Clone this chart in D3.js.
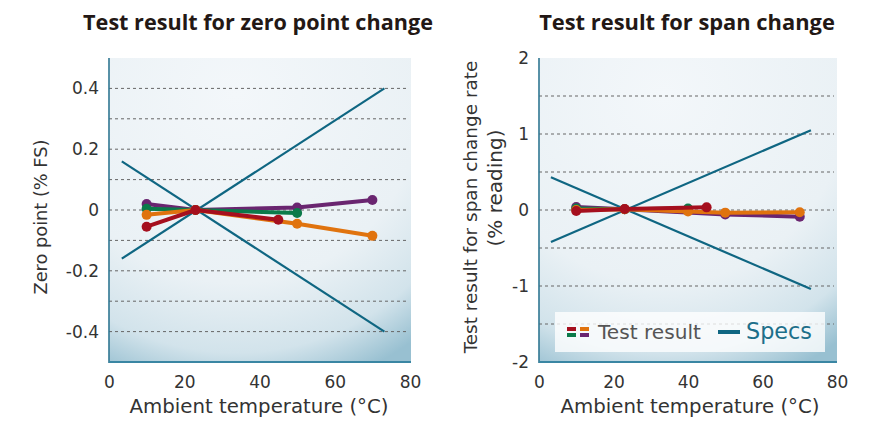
<!DOCTYPE html>
<html>
<head>
<meta charset="utf-8">
<script src="https://cdn.jsdelivr.net/npm/d3@7"></script>
<style>
  body { margin: 0; background: #fff; }
  text { font-family: "DejaVu Sans", sans-serif; }
</style>
</head>
<body>
<svg id="chart" width="871" height="425"></svg>
<script>
// values: [ambient temperature °C, value]
const zeroPurple = [[10, 0.02], [23, 0], [50, 0.008], [70, 0.033]];
const zeroGreen  = [[10, 0.004], [23, 0], [50, -0.01]];
const zeroOrange = [[10, -0.016], [23, 0], [50, -0.045], [70, -0.085]];
const zeroRed    = [[10, -0.055], [23, 0], [45, -0.032]];
const zeroSpecUp   = [[3.4, -0.16], [73.2, 0.4]];
const zeroSpecDown = [[3.4, 0.16], [73.2, -0.4]];

const spanPurple = [[10, 0.04], [23, 0.01], [50, -0.058], [70, -0.088]];
const spanGreen  = [[10, 0.02], [23, 0.01], [40, 0.02]];
const spanOrange = [[10, 0.0], [23, 0.01], [40, -0.02], [50, -0.035], [70, -0.03]];
const spanRed    = [[10, -0.013], [23, 0.013], [45, 0.035]];
const spanSpecUp   = [[3.2, -0.42], [73, 1.05]];
const spanSpecDown = [[3.2, 0.43], [73, -1.04]];

const xTicks = [0, 20, 40, 60, 80];
const zeroTicks = [-0.4, -0.2, 0, 0.2, 0.4];
const zeroGrid = [-0.4, -0.3, -0.2, -0.1, 0, 0.1, 0.2, 0.3, 0.4];
const spanTicks = [-2, -1, 0, 1, 2];
const spanGrid = [-1.5, -1, -0.5, 0, 0.5, 1, 1.5];

const colors = {purple: "#6a2570", green: "#0b7a4a", orange: "#e0730e", red: "#a50f1e", spec: "#0f6682"};

let svg = d3.select("#chart");

// shared background gradient, dark only toward the bottom corners
let grad = svg.append("defs").append("radialGradient")
  .attr("id", "bg").attr("cx", "42%").attr("cy", "12%").attr("r", "100%");
grad.append("stop").attr("offset", "0%").attr("stop-color", "#f3f7fa");
grad.append("stop").attr("offset", "62%").attr("stop-color", "#eaf1f5");
grad.append("stop").attr("offset", "85%").attr("stop-color", "#d2e3eb");
grad.append("stop").attr("offset", "100%").attr("stop-color", "#98c0d1");

function fit(sel, w) {
  let size = parseFloat(sel.style("font-size"));
  let len = sel.node().getComputedTextLength();
  sel.style("font-size", (size * w / len) + "px");
}

function drawPanel(p) {
  let top = 58, bottom = 362;
  let x = d3.scaleLinear().domain([0, 80]).range([p.left, p.right]),
      y = d3.scaleLinear().domain(p.yDomain).range([bottom, top]);
  let g = svg.append("g");

  g.append("rect")
    .attr("x", p.left).attr("y", top)
    .attr("width", p.plotRight - p.left).attr("height", bottom - top)
    .attr("fill", "url(#bg)");

  // dashed grid
  g.selectAll(".grid").data(p.grid).enter().append("line")
    .attr("x1", p.left).attr("x2", p.plotRight - 3)
    .attr("y1", d => y(d)).attr("y2", d => y(d))
    .attr("stroke", "#666").attr("stroke-width", 1)
    .attr("stroke-dasharray", "3,3");

  // axes: labels only, no ticks
  let yAxis = d3.axisLeft(y).tickValues(p.ticks).tickSize(0).tickPadding(10)
    .tickFormat(p.fmt);
  let ya = g.append("g").attr("transform", "translate(" + p.left + ",0)").call(yAxis);
  ya.select(".domain").remove();
  ya.selectAll("text").style("font-size", "17px").attr("fill", "#333")
    .style("font-family", "DejaVu Sans");

  let xAxis = d3.axisBottom(x).tickValues(xTicks).tickSize(0).tickPadding(14);
  let xa = g.append("g").attr("transform", "translate(0," + bottom + ")").call(xAxis);
  xa.select(".domain").remove();
  xa.selectAll("text").style("font-size", "17px").attr("fill", "#333")
    .style("font-family", "DejaVu Sans");

  g.append("line").attr("x1", p.left).attr("x2", p.left).attr("y1", top).attr("y2", bottom + 1)
    .attr("stroke", "#2f7692").attr("stroke-width", 1.6);
  g.append("line").attr("x1", p.left).attr("x2", p.plotRight).attr("y1", bottom).attr("y2", bottom)
    .attr("stroke", "#3a86a3").attr("stroke-width", 2);

  let line = d3.line().x(d => x(d[0])).y(d => y(d[1]));

  // spec limits
  [p.specUp, p.specDown].forEach(function(s) {
    g.append("path").datum(s).attr("d", line)
      .attr("fill", "none").attr("stroke", colors.spec).attr("stroke-width", 2.2);
  });

  // test results
  p.series.forEach(function(s) {
    g.append("path").datum(s.values).attr("d", line)
      .attr("fill", "none").attr("stroke", s.color).attr("stroke-width", 4)
      .attr("stroke-linejoin", "round");
    g.selectAll(null).data(s.values).enter().append("circle")
      .attr("cx", d => x(d[0])).attr("cy", d => y(d[1])).attr("r", 5)
      .attr("fill", s.color);
  });

  let title = g.append("text")
    .attr("x", p.titleX).attr("y", 30)
    .attr("text-anchor", "middle")
    .style("font-family", "'Open Sans', sans-serif")
    .style("font-size", "18px").style("font-weight", "bold")
    .attr("fill", "#231815")
    .text(p.title);
  fit(title, p.titleW);

  let xt = g.append("text")
    .attr("x", p.xTitleX).attr("y", 413)
    .attr("text-anchor", "middle")
    .style("font-size", "16px").attr("fill", "#333")
    .text("Ambient temperature (°C)");
  fit(xt, 259);

  return {x: x, y: y};
}

drawPanel({
  left: 109, right: 410, plotRight: 411,
  yDomain: [-0.5, 0.5], ticks: zeroTicks, grid: zeroGrid,
  fmt: d => d === 0 ? "0" : d.toFixed(1),
  specUp: zeroSpecUp, specDown: zeroSpecDown,
  series: [
    {values: zeroPurple, color: colors.purple},
    {values: zeroGreen, color: colors.green},
    {values: zeroOrange, color: colors.orange},
    {values: zeroRed, color: colors.red}
  ],
  title: "Test result for zero point change", titleX: 258, titleW: 350,
  xTitleX: 259
});

drawPanel({
  left: 539, right: 837, plotRight: 837,
  yDomain: [-2, 2], ticks: spanTicks, grid: spanGrid,
  fmt: d => String(d),
  specUp: spanSpecUp, specDown: spanSpecDown,
  series: [
    {values: spanPurple, color: colors.purple},
    {values: spanGreen, color: colors.green},
    {values: spanOrange, color: colors.orange},
    {values: spanRed, color: colors.red}
  ],
  title: "Test result for span change", titleX: 687, titleW: 296,
  xTitleX: 690
});

// y axis titles
let yt1 = svg.append("text")
  .attr("transform", "translate(47,217) rotate(-90)")
  .attr("text-anchor", "middle").style("font-size", "16px").attr("fill", "#333")
  .text("Zero point (% FS)");
fit(yt1, 155);

let yt2 = svg.append("text")
  .attr("transform", "translate(477,207) rotate(-90)")
  .attr("text-anchor", "middle").style("font-size", "16px").attr("fill", "#333")
  .text("Test result for span change rate");
fit(yt2, 293);

let yt3 = svg.append("text")
  .attr("transform", "translate(502,188) rotate(-90)")
  .attr("text-anchor", "middle").style("font-size", "16px").attr("fill", "#333")
  .text("(% reading)");
fit(yt3, 117);

// legend
let legend = svg.append("g");
legend.append("rect").attr("x", 555).attr("y", 312).attr("width", 270).attr("height", 40)
  .attr("fill", "#fff").attr("fill-opacity", 0.78);
let swatch = [[colors.red, 0, 0], [colors.orange, 1, 0], [colors.green, 0, 1], [colors.purple, 1, 1]];
legend.selectAll(".sw").data(swatch).enter().append("rect")
  .attr("x", d => 567 + d[1] * 13).attr("y", d => 327 + d[2] * 6)
  .attr("width", 9).attr("height", 4).attr("fill", d => d[0]);
let lt1 = legend.append("text").attr("x", 598).attr("y", 339)
  .style("font-size", "19px").attr("fill", "#555").text("Test result");
fit(lt1, 103);
legend.append("line").attr("x1", 718).attr("x2", 740).attr("y1", 332).attr("y2", 332)
  .attr("stroke", colors.spec).attr("stroke-width", 4);
let lt2 = legend.append("text").attr("x", 746).attr("y", 339)
  .style("font-size", "19px").attr("fill", "#1d6f8a").text("Specs");
fit(lt2, 66);
</script>
</body>
</html>
